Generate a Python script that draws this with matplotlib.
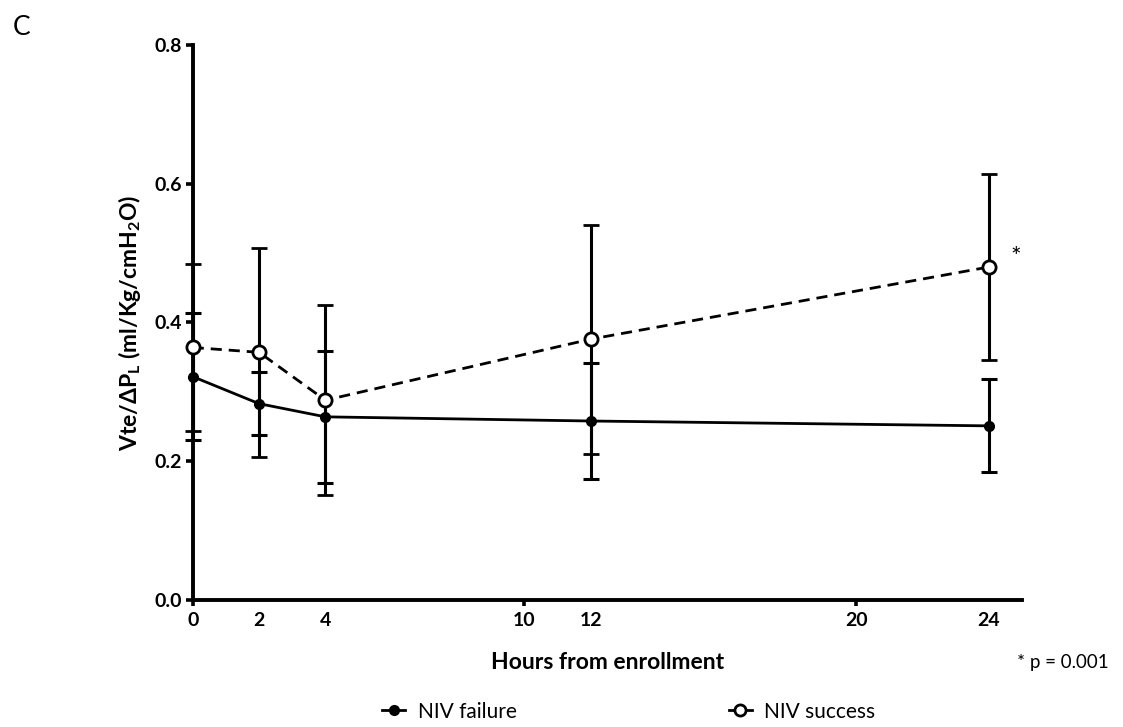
import numpy as np
from matplotlib import pyplot as plt
from matplotlib.lines import Line2D

plt.rcParams['font.family'] = ['Lato', 'DejaVu Sans']
plt.rcParams['mathtext.fontset'] = 'custom'
plt.rcParams['mathtext.rm'] = 'Lato'
plt.rcParams['mathtext.bf'] = 'Lato:bold'

hours = [0, 2, 4, 12, 24]
fail_mean = [0.322, 0.283, 0.264, 0.258, 0.251]
fail_sd = [0.092, 0.045, 0.095, 0.083, 0.067]
succ_mean = [0.364, 0.357, 0.288, 0.376, 0.480]
succ_sd = [0.120, 0.151, 0.137, 0.165, 0.134]

major_x = [0, 10, 20]
minor_x = [2, 4, 12, 24]
y_ticks = [0.0, 0.2, 0.4, 0.6, 0.8]

fig = plt.figure(figsize=(11.23, 7.27), dpi=100)
ax = fig.add_axes([0.1716, 0.1747, 0.7385, 0.7634])

ax.errorbar(hours, fail_mean, yerr=fail_sd, color="black", lw=2.0,
            marker="o", ms=7, mfc="black", mec="black",
            capsize=6, capthick=2.2, elinewidth=2.2,
            zorder=3, clip_on=False)
ax.errorbar(hours, succ_mean, yerr=succ_sd, color="black", lw=2.0, ls=(0, (4, 2.5)),
            marker="o", ms=9.5, mfc="white", mec="black", mew=2.0,
            capsize=6, capthick=2.2, elinewidth=2.2,
            zorder=4, clip_on=False)

ax.text(hours[-1] + 0.8, succ_mean[-1] + 0.014, "*", fontsize=18, ha="center", va="center")

ax.set_xlim(0, 25)
ax.set_ylim(0, 0.8)
for s in ["top", "right"]:
    ax.spines[s].set_visible(False)
for s in ["left", "bottom"]:
    ax.spines[s].set_linewidth(2.8)

ax.set_yticks(y_ticks)
ax.set_yticklabels([f"{v:.1f}" for v in y_ticks], fontsize=14, fontweight="bold")
ax.set_xticks(major_x)
ax.set_xticklabels([str(v) for v in major_x], fontsize=14, fontweight="bold")
ax.set_xticks(minor_x, minor=True)
ax.set_xticklabels([str(v) for v in minor_x], minor=True, fontsize=14, fontweight="bold")
ax.tick_params(axis="y", length=5, width=2.6, pad=3)
ax.tick_params(axis="x", which="major", length=4, width=2.6, pad=5)
ax.tick_params(axis="x", which="minor", length=0, pad=9)

ax.set_xlabel("Hours from enrollment", fontsize=16.5, fontweight="bold", labelpad=16)
ax.set_ylabel(r"Vte/ΔP$_\mathbf{L}$ (ml/Kg/cmH$_\mathbf{2}$O)", fontsize=16.5,
              fontweight="bold", labelpad=8)

fig.text(0.011, 0.962, "C", fontsize=19, ha="left", va="center")
fig.text(0.987, 0.089, "* p = 0.001", fontsize=13.5, ha="right", va="center")

handles = [
    Line2D([], [], color="black", lw=2.0, marker="o", ms=7, mfc="black"),
    Line2D([], [], color="black", lw=2.0, marker="o", ms=8, mfc="white", mew=2.0),
]
fig.legend(handles, ["NIV failure", "NIV success"], loc="center",
           bbox_to_anchor=(0.56, 0.021), ncol=2, frameon=False,
           fontsize=15, handlelength=1.1, handletextpad=0.6, columnspacing=10.2)

fig.savefig("out.png", dpi=100)
